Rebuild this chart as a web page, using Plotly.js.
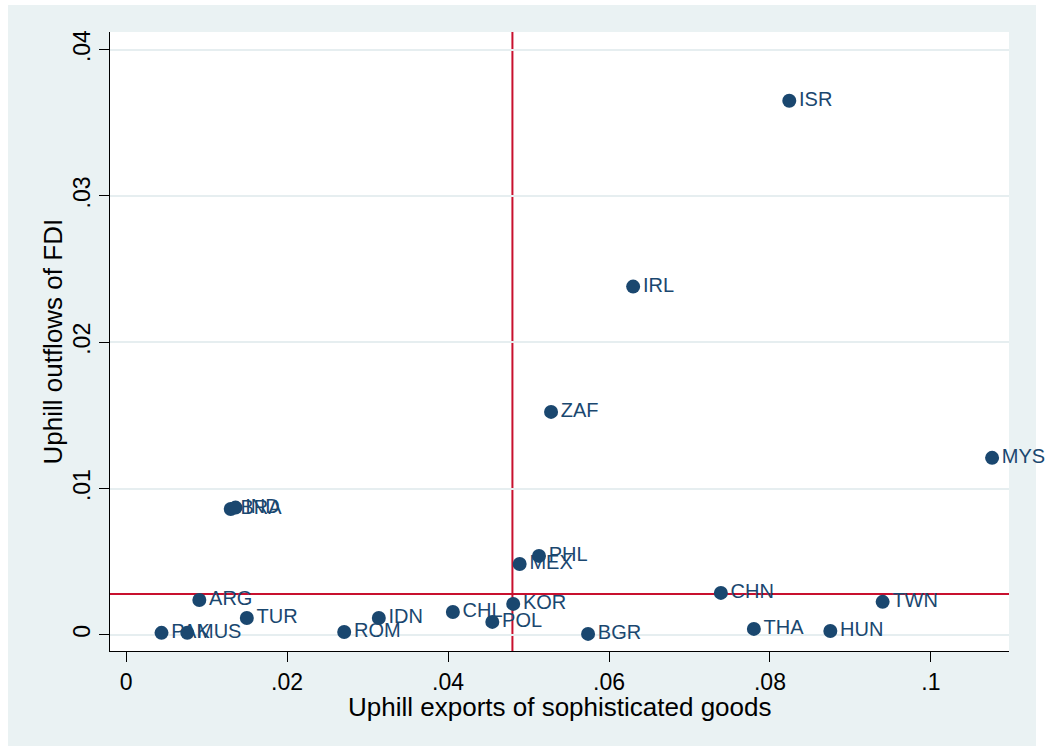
<!DOCTYPE html>
<html>
<head>
<meta charset="utf-8">
<script src="https://cdn.plot.ly/plotly-3.0.1.min.js"></script>
<style>
html,body{margin:0;padding:0;background:#ffffff;}
#chart{position:absolute;left:8px;top:5px;width:1028px;height:741px;overflow:visible;}
#chart .svg-container{overflow:visible !important;}
#chart svg.main-svg{overflow:visible !important;}
</style>
</head>
<body>
<div id="chart"></div>
<script>
const countries = ["ISR","IRL","ZAF","MYS","BRA","IND","PHL","MEX","ARG","CHN","TWN","TUR","IDN","CHL","KOR","POL","ROM","BGR","THA","HUN","MUS","PAK"];
const uphillExports = [0.0824,0.0630,0.0528,0.1076,0.0130,0.0136,0.0513,0.0489,0.0091,0.0739,0.0940,0.0150,0.0314,0.0406,0.0481,0.0455,0.0271,0.0574,0.0780,0.0875,0.0076,0.0044];
const uphillFDI = [0.0365,0.0238,0.01524,0.0121,0.0086,0.0087,0.0054,0.00485,0.00239,0.00287,0.00226,0.00116,0.00116,0.00157,0.00212,0.00089,0.0002,0.00007,0.00041,0.00027,0.00014,0.00014];
const refX = 0.048;
const refY = 0.0028;
const xTickVals = [0,0.02,0.04,0.06,0.08,0.1];
const xTickText = ["0",".02",".04",".06",".08",".1"];
const yTickVals = [0,0.01,0.02,0.03,0.04];
const yTickText = ["0",".01",".02",".03",".04"];
const xTitle = "Uphill exports of sophisticated goods";
const yTitle = "Uphill outflows of FDI";

const navy = "#1a476f";
const red = "#c8102e";
const font = "Liberation Sans, Arial, sans-serif";

const trace = {
  type: "scatter",
  mode: "markers+text",
  x: uphillExports,
  y: uphillFDI,
  text: countries,
  textposition: "middle right",
  textfont: {family: font, size: 20, color: navy},
  marker: {color: navy, size: 14},
  cliponaxis: false,
  hoverinfo: "text+x+y"
};

const layout = {
  width: 1028, height: 741,
  paper_bgcolor: "#eaf2f3",
  plot_bgcolor: "#ffffff",
  margin: {l: 102, r: 27, t: 27, b: 95},
  showlegend: false,
  font: {family: font, color: "#000000"},
  xaxis: {
    range: [-0.002, 0.1097],
    tickvals: xTickVals, ticktext: xTickText,
    ticks: "outside", ticklen: 10, tickwidth: 1, tickcolor: "#000",
    showline: true, linecolor: "#000", linewidth: 1,
    showgrid: false, zeroline: false,
    tickfont: {family: font, size: 23, color: "#000"}
  },
  yaxis: {
    range: [-0.0011, 0.0412],
    tickvals: yTickVals, ticktext: yTickText,
    tickangle: -90,
    ticks: "outside", ticklen: 10, tickwidth: 1, tickcolor: "#000",
    showline: true, linecolor: "#000", linewidth: 1,
    showgrid: true, gridcolor: "#e6eef0", gridwidth: 2,
    zeroline: false,
    tickfont: {family: font, size: 23, color: "#000"}
  },
  annotations: [
    {text: xTitle, xref: "paper", yref: "paper", x: 0.5, y: -0.0905, xanchor: "center", yanchor: "middle", showarrow: false, font: {family: font, size: 26, color: "#000"}},
    {text: yTitle, xref: "paper", yref: "paper", x: -0.0645, y: 0.5, xanchor: "center", yanchor: "middle", textangle: -90, showarrow: false, font: {family: font, size: 26, color: "#000"}}
  ],
  shapes: [
    {type: "line", layer: "between", xref: "x", yref: "paper", x0: refX, x1: refX, y0: 0, y1: 1, line: {color: red, width: 2}},
    {type: "line", layer: "between", xref: "paper", yref: "y", x0: 0, x1: 1, y0: refY, y1: refY, line: {color: red, width: 2}}
  ]
};

Plotly.newPlot("chart", [trace], layout, {displayModeBar: false, staticPlot: true});
</script>
</body>
</html>
